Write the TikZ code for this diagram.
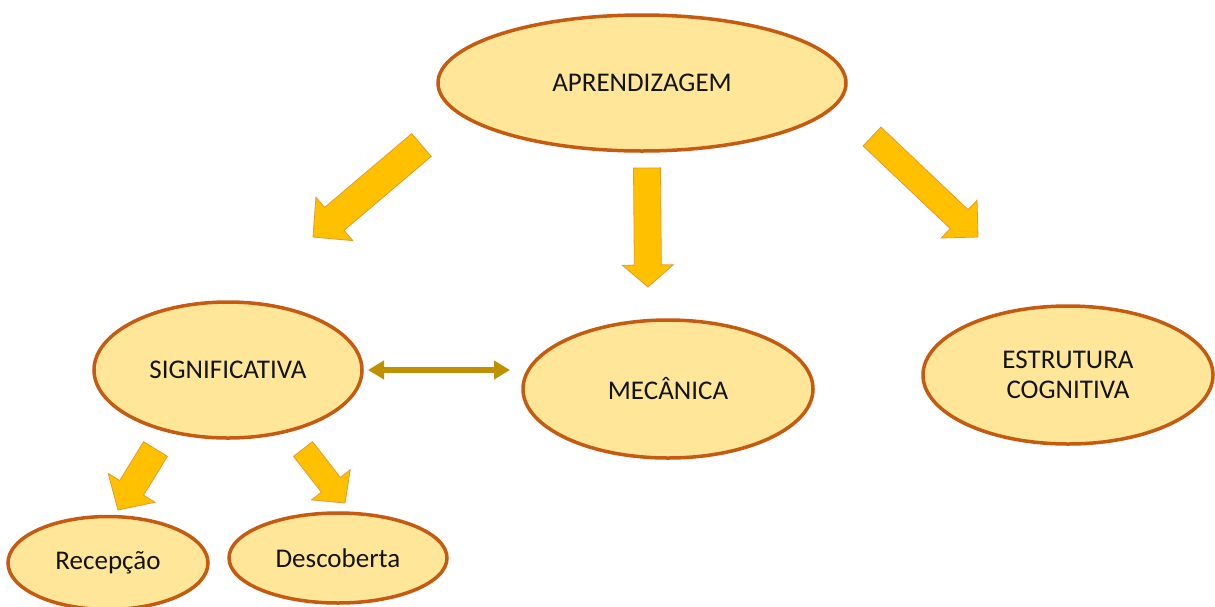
\documentclass[tikz,border=0pt]{standalone}
\usepackage{fontspec}
\setmainfont{Carlito}
\usetikzlibrary{shapes.geometric,calc,arrows.meta}
\definecolor{ellfill}{HTML}{FFE699}
\definecolor{elldraw}{HTML}{C55A11}
\definecolor{arrfill}{HTML}{FFC000}
\definecolor{arrdraw}{HTML}{E39A2E}
\definecolor{dblarr}{HTML}{BF9000}
\definecolor{txt}{HTML}{141414}
\tikzset{
  oval/.style={ellipse, draw=elldraw, fill=ellfill, line width=3.5pt,
    inner sep=0pt, outer sep=0pt, text=txt, align=center,
    font=\fontsize{27}{30}\selectfont},
  blockarrow/.style={fill=arrfill, draw=arrdraw, line width=0.8pt, line join=miter}
}
\newcommand\blockarr[5]{%
  \coordinate (bah) at ($(#2)!#5!(#1)$);
  \draw[blockarrow] ($(#1)!#3!90:(#2)$) -- ($(bah)!#3!90:(#2)$) -- ($(bah)!#4!90:(#2)$)
    -- (#2) -- ($(bah)!#4!-90:(#2)$) -- ($(bah)!#3!-90:(#2)$) -- ($(#1)!#3!-90:(#2)$) -- cycle;}
\begin{document}
\begin{tikzpicture}[x=1pt,y=-1pt]
\useasboundingbox (0,0) rectangle (1215,606);
\clip (0,0) rectangle (1215,606);
\fill[white] (0,0) rectangle (1215,606);
% ellipses
\node[oval, minimum width=408pt, minimum height=136pt] (apr) at (642,83) {APRENDIZAGEM};
\node[oval, minimum width=268pt, minimum height=136pt] (sig) at (228,370) {SIGNIFICATIVA};
\node[oval, minimum width=290pt, minimum height=138pt] (mec) at (668,389) {MECÂNICA};
\node[oval, minimum width=290pt, minimum height=138pt] (est) at (1068,375) {ESTRUTURA\\COGNITIVA};
\node[oval, minimum width=200pt, minimum height=93pt] (rec) at (108,563) {Recepção};
\node[oval, minimum width=218pt, minimum height=90pt] (des) at (338,558) {Descoberta};
% block arrows
\coordinate (a1t) at (421.5,145); \coordinate (a1h) at (313,237);
\coordinate (a2t) at (647,168);   \coordinate (a2h) at (648,287);
\coordinate (a3t) at (872,136.5); \coordinate (a3h) at (978,237);
\coordinate (a4t) at (155.5,449); \coordinate (a4h) at (118,510);
\coordinate (a5t) at (303,449);   \coordinate (a5h) at (345,503);
\blockarr{a1t}{a1h}{15pt}{28.5pt}{28pt}
\blockarr{a2t}{a2h}{13.5pt}{25.5pt}{22pt}
\blockarr{a3t}{a3h}{13pt}{26pt}{26pt}
\blockarr{a4t}{a4h}{14pt}{27.5pt}{26pt}
\blockarr{a5t}{a5h}{12pt}{24.5pt}{23pt}
% double arrow
\draw[dblarr, line width=5.5pt, {Triangle[length=16pt,width=18pt]}-{Triangle[length=16pt,width=18pt]},
  shorten <=6pt, shorten >=13pt] (sig.east) -- (sig.east -| mec.west);
\end{tikzpicture}
\end{document}
